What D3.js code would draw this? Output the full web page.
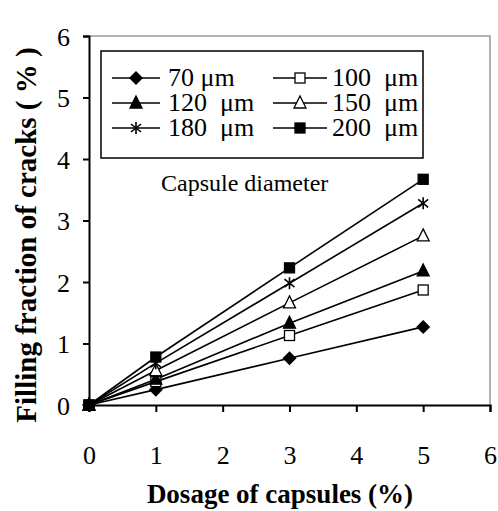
<!DOCTYPE html>
<html><head><meta charset="utf-8"><script src="https://cdn.jsdelivr.net/npm/d3@7"></script></head>
<body style="margin:0">
<svg width="498" height="511" style="font-family: 'Liberation Serif', serif"></svg>
<script>
const dosage = [0, 1, 3, 5];
const diameters = ['70 μm', '100  μm', '120  μm', '150  μm', '180  μm', '200  μm'];
const markers = ['diamond', 'squareOpen', 'triangle', 'triangleOpen', 'star', 'square'];
const fill70 = [0, 0.25, 0.76, 1.27];
const fill100 = [0, 0.38, 1.13, 1.87];
const fill120 = [0, 0.42, 1.33, 2.18];
const fill150 = [0, 0.56, 1.66, 2.75];
const fill180 = [0, 0.68, 1.98, 3.28];
const fill200 = [0, 0.78, 2.23, 3.67];
const xTicks = [0, 1, 2, 3, 4, 5, 6];
const yTicks = [0, 1, 2, 3, 4, 5, 6];

const series = [fill70, fill100, fill120, fill150, fill180, fill200].map((vals, i) => ({
    name: diameters[i],
    marker: markers[i],
    points: vals.map((v, j) => ({ x: dosage[j], y: v }))
}));

const xScale = d3.scaleLinear().domain([0, 6]).range([89, 490]);
const yScale = d3.scaleLinear().domain([0, 6]).range([405, 36]);

const svg = d3.select('svg');

// gray frame top/right
svg.append('path')
    .attr('d', `M${xScale(0)},${yScale(6)}H${xScale(6)}V${yScale(0)}`)
    .attr('fill', 'none')
    .attr('stroke', '#999')
    .attr('stroke-width', 1.5);

const xAxis = svg.append('g')
    .attr('transform', `translate(0,${yScale(0)})`)
    .call(d3.axisBottom(xScale).tickValues(xTicks).tickSize(7).tickPadding(34).tickFormat(d3.format('d')));
const yAxis = svg.append('g')
    .attr('transform', `translate(${xScale(0)},0)`)
    .call(d3.axisLeft(yScale).tickValues(yTicks).tickSize(6).tickPadding(13).tickFormat(d3.format('d')));

[xAxis, yAxis].forEach(ax => {
    ax.attr('font-family', null).attr('font-size', null);
    ax.selectAll('path, line').attr('stroke', '#000').attr('stroke-width', 2);
    ax.selectAll('text').attr('font-size', 26).attr('fill', '#000');
});
yAxis.selectAll('text').attr('dy', '0.35em');

const line = d3.line().x(d => xScale(d.x)).y(d => yScale(d.y));

function drawMarker(g, type, cx, cy) {
    if (type === 'diamond') {
        g.append('path').attr('d', `M${cx},${cy - 7}L${cx + 7},${cy}L${cx},${cy + 7}L${cx - 7},${cy}Z`).attr('fill', '#000');
    } else if (type === 'square' || type === 'squareOpen') {
        const open = type === 'squareOpen';
        g.append('rect').attr('x', cx - 5).attr('y', cy - 5).attr('width', 10).attr('height', 10)
            .attr('fill', open ? '#fff' : '#000').attr('stroke', '#000').attr('stroke-width', 1.3);
    } else if (type === 'triangle' || type === 'triangleOpen') {
        const open = type === 'triangleOpen';
        g.append('path').attr('d', `M${cx},${cy - 7}L${cx + 6},${cy + 5}L${cx - 6},${cy + 5}Z`)
            .attr('fill', open ? '#fff' : '#000').attr('stroke', '#000').attr('stroke-width', 1.3);
    } else if (type === 'star') {
        g.append('path')
            .attr('d', `M${cx},${cy - 6}V${cy + 6}M${cx - 5},${cy - 4}L${cx + 5},${cy + 4}M${cx + 5},${cy - 4}L${cx - 5},${cy + 4}`)
            .attr('stroke', '#000').attr('stroke-width', 1.6);
    }
}

const plot = svg.append('g');
series.forEach(s => {
    plot.append('path')
        .datum(s.points)
        .attr('d', line)
        .attr('fill', 'none')
        .attr('stroke', '#000')
        .attr('stroke-width', 1.6);
});
series.forEach(s => {
    s.points.forEach(p => drawMarker(plot, s.marker, xScale(p.x), yScale(p.y)));
});

// legend
const legend = svg.append('g');
legend.append('rect')
    .attr('x', 101).attr('y', 51).attr('width', 322).attr('height', 107)
    .attr('fill', '#fff').attr('stroke', '#000').attr('stroke-width', 1.5);
series.forEach((s, i) => {
    const col = i % 2, row = Math.floor(i / 2);
    const x0 = col === 0 ? 112 : 273;
    const x1 = col === 0 ? 160 : 327;
    const y = 78 + row * 25;
    legend.append('line').attr('x1', x0).attr('x2', x1).attr('y1', y).attr('y2', y)
        .attr('stroke', '#000').attr('stroke-width', 1.6);
    drawMarker(legend, s.marker, (x0 + x1) / 2, y);
    legend.append('text')
        .attr('x', col === 0 ? 168 : 332)
        .attr('y', y + 8)
        .attr('font-size', 26)
        .style('white-space', 'pre')
        .text(s.name);
});

svg.append('text')
    .attr('x', 161).attr('y', 191)
    .attr('font-size', 24)
    .text('Capsule diameter');

svg.append('text')
    .attr('x', 280).attr('y', 503)
    .attr('text-anchor', 'middle')
    .attr('font-size', 27)
    .attr('font-weight', 'bold')
    .style('white-space', 'pre')
    .text('Dosage of capsules (%)');

svg.append('text')
    .attr('transform', 'translate(36,235) rotate(-90)')
    .attr('text-anchor', 'middle')
    .attr('font-size', 29)
    .attr('font-weight', 'bold')
    .style('white-space', 'pre')
    .text('Filling fraction of cracks ( % )');
</script>
</body>
</html>
